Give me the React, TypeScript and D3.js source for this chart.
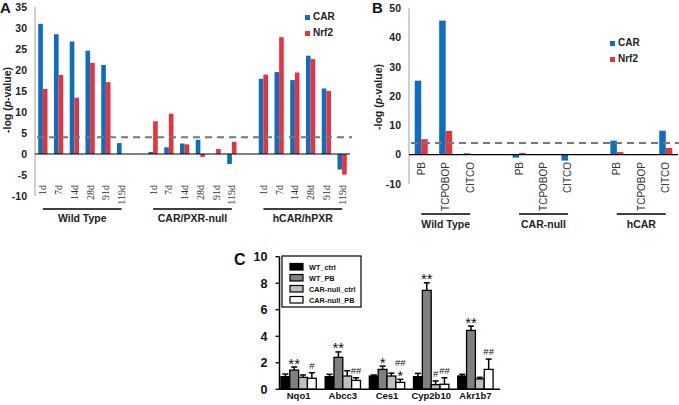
import React from "react";
import * as d3 from "d3";

// ---- data ----
const seriesNames = ["CAR", "Nrf2"];
const timepoints = ["1d", "7d", "14d", "28d", "91d", "119d"];
const strainsA = ["Wild Type", "CAR/PXR-null", "hCAR/hPXR"];
const carA = [
  [31.0, 28.5, 26.8, 24.6, 21.2, 2.6],
  [0.5, 1.6, 2.5, 3.4, 0, -2.4],
  [17.9, 19.5, 17.6, 23.4, 15.6, -3.7],
];
const nrf2A = [
  [15.5, 18.8, 13.4, 21.7, 17.1, 0],
  [7.8, 9.6, 2.3, -0.7, 1.2, 2.9],
  [18.9, 27.8, 19.4, 22.6, 15.0, -4.9],
];
const ticksA = [-10, -5, 0, 5, 10, 15, 20, 25, 30, 35];

const treatments = ["PB", "TCPOBOP", "CITCO"];
const strainsB = ["Wild Type", "CAR-null", "hCAR"];
const carB = [
  [25.3, 45.8, 0.5],
  [-1.0, 0, -2.0],
  [4.8, 0, 8.2],
];
const nrf2B = [
  [5.3, 8.1, 0],
  [0.6, 0, 0],
  [0.9, 0, 2.3],
];
const ticksB = [-10, 0, 10, 20, 30, 40, 50];
const threshold = 4;

const genes = ["Nqo1", "Abcc3", "Ces1", "Cyp2b10", "Akr1b7"];
const groupsC = ["WT_ctrl", "WT_PB", "CAR-null_ctrl", "CAR-null_PB"];
const meanC = [
  [0.95, 0.95, 1.0, 0.95, 1.0],
  [1.45, 2.41, 1.5, 7.46, 4.44],
  [0.9, 1.0, 1.0, 0.35, 0.78],
  [0.83, 0.67, 0.52, 0.38, 1.5],
];
const errTopC = [
  [1.15, 1.13, 1.08, 1.2, 1.13],
  [1.68, 2.82, 1.75, 8.03, 4.77],
  [1.08, 1.4, 1.22, 0.63, 0.9],
  [1.25, 0.87, 0.75, 0.87, 2.28],
];
// stacked significance marks, bottom to top
const sigC = [
  [[], [], [], [], []],
  [["**"], ["**"], ["*"], ["**"], ["**"]],
  [[], [], [], ["#"], []],
  [["#"], ["##"], ["*", "##"], ["##"], ["##"]],
];
const ticksC = [0, 2, 4, 6, 8, 10];

const BLUE = "#0e6dbd";
const RED = "#e5343d";
const SANS = "Liberation Sans, Arial, sans-serif";
const SERIF = "Liberation Serif, Times New Roman, serif";
const fillsC = ["#000000", "#808080", "#c0c0c0", "#ffffff"];

interface PanelProps {
  strains: string[];
  cats: string[];
  car: number[][];
  nrf2: number[][];
  ticks: number[];
  xRange: [number, number];
  yDomain: [number, number];
  yRange: [number, number];
  subPad: number;
  labelTop: number;
  serifLabels: boolean;
  groupLineY: number;
  groupLabelY: number;
  yLabelX: number;
  yLabelY: number;
  legendX: number;
  legendY: number;
}

function GroupedPanel(p: PanelProps) {
  const slots: string[] = [];
  p.strains.forEach((s, si) => {
    p.cats.forEach((c) => slots.push(`${s}|${c}`));
    if (si < p.strains.length - 1) slots.push(`gap${si}`);
  });
  const x = d3.scaleBand().domain(slots).range(p.xRange);
  const sub = d3
    .scaleBand()
    .domain(seriesNames)
    .range([0, x.bandwidth()])
    .paddingOuter(p.subPad);
  const y = d3.scaleLinear().domain(p.yDomain).range(p.yRange);
  const [x0, x1] = p.xRange;
  const bars: JSX.Element[] = [];
  p.strains.forEach((s, si) => {
    p.cats.forEach((c, ci) => {
      [p.car[si][ci], p.nrf2[si][ci]].forEach((v, k) => {
        if (v === 0) return;
        const bx = (x(`${s}|${c}`) as number) + (sub(seriesNames[k]) as number);
        bars.push(
          <rect
            key={`${si}-${ci}-${k}`}
            x={bx}
            y={Math.min(y(v), y(0))}
            width={sub.bandwidth()}
            height={Math.abs(y(v) - y(0))}
            fill={k === 0 ? BLUE : RED}
          />
        );
      });
    });
  });
  return (
    <g>
      <line x1={x0} x2={x0} y1={p.yRange[1]} y2={p.yRange[0]} stroke="#a0a0a0" strokeWidth={1} />
      {p.ticks.map((t) => (
        <text
          key={t}
          x={x0 - 8}
          y={y(t)}
          dy="0.35em"
          textAnchor="end"
          fontFamily={SANS}
          fontWeight="bold"
          fontSize={10.5}
          fill="#222"
        >
          {t}
        </text>
      ))}
      <text
        transform={`translate(${p.yLabelX},${p.yLabelY}) rotate(-90)`}
        textAnchor="middle"
        fontFamily={SANS}
        fontWeight="bold"
        fontSize={10.5}
        fill="#222"
      >
        -log (<tspan fontStyle="italic">p</tspan>-value)
      </text>
      {bars}
      <line x1={x0} x2={x1} y1={y(0)} y2={y(0)} stroke="#000" strokeWidth={1.2} />
      <line
        x1={x0 + 2}
        x2={x1 + 2}
        y1={y(threshold)}
        y2={y(threshold)}
        stroke="#777"
        strokeWidth={2}
        strokeDasharray="7,5"
      />
      {p.strains.map((s) =>
        p.cats.map((c) => {
          const cx = (x(`${s}|${c}`) as number) + x.bandwidth() / 2;
          return (
            <text
              key={`${s}-${c}`}
              transform={`translate(${cx},${p.labelTop}) rotate(-90)`}
              dy="0.35em"
              textAnchor="end"
              fontFamily={p.serifLabels ? SERIF : SANS}
              fontSize={10}
              fill="#333"
            >
              {c}
            </text>
          );
        })
      )}
      {p.strains.map((s) => {
        const a = (x(`${s}|${p.cats[0]}`) as number) + x.bandwidth() / 2;
        const b = (x(`${s}|${p.cats[p.cats.length - 1]}`) as number) + x.bandwidth() / 2;
        return (
          <g key={s}>
            <line x1={a} x2={b} y1={p.groupLineY} y2={p.groupLineY} stroke="#000" strokeWidth={1.3} />
            <text
              x={(a + b) / 2}
              y={p.groupLabelY}
              textAnchor="middle"
              fontFamily={SANS}
              fontWeight="bold"
              fontSize={10.5}
              fill="#222"
            >
              {s}
            </text>
          </g>
        );
      })}
      {seriesNames.map((n, k) => (
        <g key={n}>
          <rect x={p.legendX} y={p.legendY + k * 16 - 5} width={5} height={5} fill={k === 0 ? BLUE : RED} />
          <text x={p.legendX + 8} y={p.legendY + k * 16} fontFamily={SANS} fontWeight="bold" fontSize={10} fill="#222">
            {n}
          </text>
        </g>
      ))}
    </g>
  );
}

function PanelC() {
  const x = d3.scaleBand().domain(genes).range([276.5, 497.5]).paddingInner(0.2).paddingOuter(0.1);
  const sub = d3.scaleBand().domain(groupsC).range([0, x.bandwidth()]);
  const y = d3.scaleLinear().domain([0, 10]).range([389.3, 256.7]);
  const axX = 279.5;
  const marks: JSX.Element[] = [];
  groupsC.forEach((g, gi) => {
    genes.forEach((gene, i) => {
      const bx = (x(gene) as number) + (sub(g) as number);
      const cx = bx + sub.bandwidth() / 2;
      const cap = y(errTopC[gi][i]);
      marks.push(
        <g key={`${g}-${gene}`}>
          <line x1={cx} x2={cx} y1={y(meanC[gi][i])} y2={cap} stroke="#000" strokeWidth={1.5} />
          <line x1={cx - 3} x2={cx + 3} y1={cap} y2={cap} stroke="#000" strokeWidth={1.5} />
          <rect
            x={bx}
            y={y(meanC[gi][i])}
            width={sub.bandwidth()}
            height={y(0) - y(meanC[gi][i])}
            fill={fillsC[gi]}
            stroke="#000"
            strokeWidth={1.3}
          />
        </g>
      );
      let top = cap;
      sigC[gi][i].forEach((m, mi) => {
        if (m.startsWith("*")) {
          const base = top + 1.5;
          marks.push(
            <text key={`${g}-${gene}-s${mi}`} x={cx} y={base} textAnchor="middle" fontFamily={SANS} fontSize={15} fill="#111">
              {m}
            </text>
          );
          top = base - 10.5;
        } else {
          const base = top - 4;
          marks.push(
            <text key={`${g}-${gene}-s${mi}`} x={cx} y={base} textAnchor="middle" fontFamily={SANS} fontSize={9.5} fill="#111">
              {m}
            </text>
          );
          top = base - 7.5;
        }
      });
    });
  });
  return (
    <g>
      <text x={234} y={265} fontFamily={SANS} fontWeight="bold" fontSize={16} fill="#111">
        C
      </text>
      {ticksC.map((t) => (
        <g key={t}>
          <line x1={axX - 4} x2={axX} y1={y(t)} y2={y(t)} stroke="#000" strokeWidth={1.3} />
          <text x={axX - 12} y={y(t)} dy="0.36em" textAnchor="end" fontFamily={SANS} fontWeight="bold" fontSize={12.5} fill="#111">
            {t}
          </text>
        </g>
      ))}
      {marks}
      <line x1={axX} x2={axX} y1={y(10)} y2={y(0)} stroke="#000" strokeWidth={1.5} />
      <line x1={axX} x2={500} y1={y(0)} y2={y(0)} stroke="#000" strokeWidth={1.5} />
      {genes.map((g) => (
        <text
          key={g}
          x={(x(g) as number) + x.bandwidth() / 2}
          y={399}
          textAnchor="middle"
          fontFamily={SANS}
          fontWeight="bold"
          fontSize={9.5}
          fill="#111"
        >
          {g}
        </text>
      ))}
      <rect x={282} y={256} width={79} height={51} fill="#fff" stroke="#000" strokeWidth={1.2} />
      {groupsC.map((g, gi) => (
        <g key={g}>
          <rect x={290} y={263.5 + gi * 11} width={13} height={6.5} fill={fillsC[gi]} stroke="#000" strokeWidth={1.2} />
          <text x={309} y={269.5 + gi * 11} fontFamily={SANS} fontWeight="bold" fontSize={7.3} fill="#111">
            {g}
          </text>
        </g>
      ))}
    </g>
  );
}

export default function App() {
  return (
    <svg
      width={679}
      height={405}
      viewBox="0 0 679 405"
      style={{ position: "absolute", left: 0, top: 0, background: "#fff" }}
    >
      <rect width={679} height={405} fill="#fff" />
      <text x={0} y={13} fontFamily={SANS} fontWeight="bold" fontSize={15} fill="#111">
        A
      </text>
      <text x={372} y={13} fontFamily={SANS} fontWeight="bold" fontSize={15} fill="#111">
        B
      </text>
      <GroupedPanel
        strains={strainsA}
        cats={timepoints}
        car={carA}
        nrf2={nrf2A}
        ticks={ticksA}
        xRange={[35, 350]}
        yDomain={[-10, 35]}
        yRange={[196, 7]}
        subPad={0.7}
        labelTop={185}
        serifLabels={true}
        groupLineY={209}
        groupLabelY={222}
        yLabelX={11}
        yLabelY={100}
        legendX={305}
        legendY={20}
      />
      <GroupedPanel
        strains={strainsB}
        cats={treatments}
        car={carB}
        nrf2={nrf2B}
        ticks={ticksB}
        xRange={[409, 678]}
        yDomain={[-10, 50]}
        yRange={[184, 8.3]}
        subPad={0.88}
        labelTop={162}
        serifLabels={false}
        groupLineY={214}
        groupLabelY={228}
        yLabelX={382}
        yLabelY={97}
        legendX={610}
        legendY={46}
      />
      <PanelC />
    </svg>
  );
}
